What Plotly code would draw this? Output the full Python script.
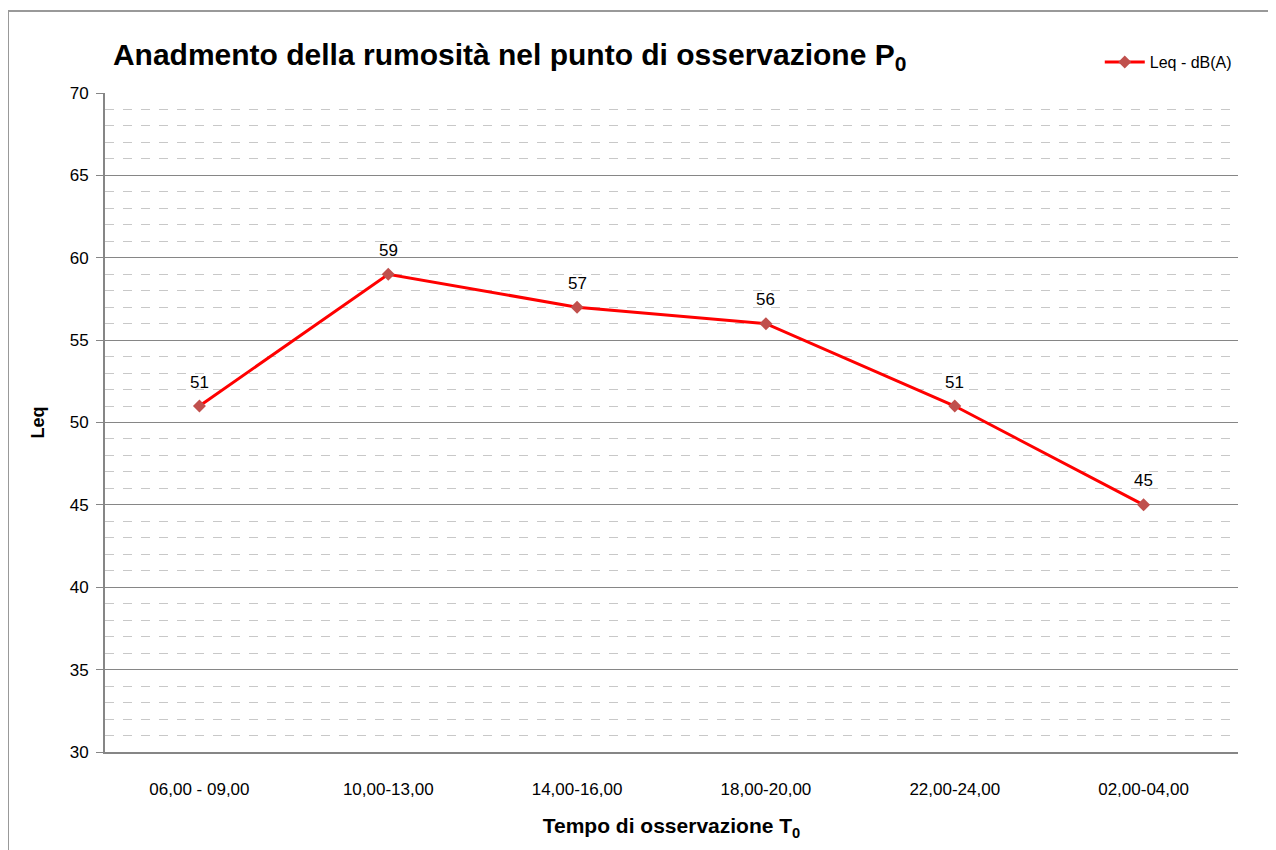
import plotly.graph_objects as go

categories = ["06,00 - 09,00", "10,00-13,00", "14,00-16,00", "18,00-20,00", "22,00-24,00", "02,00-04,00"]
leq_values = [51, 59, 57, 56, 51, 45]
series_name = "Leq - dB(A)"
y_ticks = [30, 35, 40, 45, 50, 55, 60, 65, 70]

FONT = "Liberation Sans, Arial, sans-serif"

fig = go.Figure()
fig.add_trace(go.Scatter(
    x=categories, y=leq_values, name=series_name,
    mode="lines+markers",
    line=dict(color="#ff0000", width=3),
    marker=dict(symbol="diamond", size=10, color="#c0504d"),
))
for c, v in zip(categories, leq_values):
    fig.add_annotation(x=c, y=v, text=str(v), showarrow=False, yshift=24,
                       font=dict(family=FONT, size=17, color="#000000"))

fig.update_layout(
    width=1268, height=842,
    margin=dict(l=97, r=38, t=85, b=98),
    paper_bgcolor="white", plot_bgcolor="white",
    font=dict(family=FONT, color="#000000"),
    title=dict(
        text="Anadmento della rumosità nel punto di osservazione P<sub>0</sub>",
        font=dict(family=FONT, size=30, color="#000000", weight="bold"),
        x=0.007, xref="paper", xanchor="left",
        y=1 - 46 / 842, yanchor="middle",
    ),
    showlegend=True,
    legend=dict(
        x=0.878, y=1.047, xanchor="left", yanchor="middle",
        font=dict(family=FONT, size=16, color="#000000"),
        bgcolor="rgba(0,0,0,0)", itemwidth=40,
    ),
    xaxis=dict(
        type="category", range=[-0.5, 5.5],
        showgrid=False, showline=True, linecolor="#868686", linewidth=2,
        ticks="", tickfont=dict(family=FONT, size=17, color="#000000"),
        ticklabelstandoff=21,
        title=dict(text="<b>Tempo di osservazione T<sub>0</sub></b>",
                   font=dict(family=FONT, size=21, color="#000000"), standoff=20),
    ),
    yaxis=dict(
        range=[30, 70], tickvals=y_ticks,
        showgrid=True, gridcolor="#868686", gridwidth=1,
        showline=True, linecolor="#868686", linewidth=2,
        ticks="outside", ticklen=7, tickcolor="#868686",
        ticklabelstandoff=4,
        tickfont=dict(family=FONT, size=17, color="#000000"),
        minor=dict(dtick=1, showgrid=True, gridcolor="#c8c8c8", griddash="dash", gridwidth=1),
        zeroline=False,
        title=dict(text="<b>Leq</b>", font=dict(family=FONT, size=18, color="#000000"), standoff=20),
    ),
    shapes=[dict(type="rect", xref="paper", yref="paper",
                 x0=(8 - 105) / 1133, x1=1.2, y0=-0.3, y1=(752 - 11) / 659,
                 line=dict(color="#999999", width=2), fillcolor="rgba(0,0,0,0)", layer="below")],
)

fig.write_html("out.html")
